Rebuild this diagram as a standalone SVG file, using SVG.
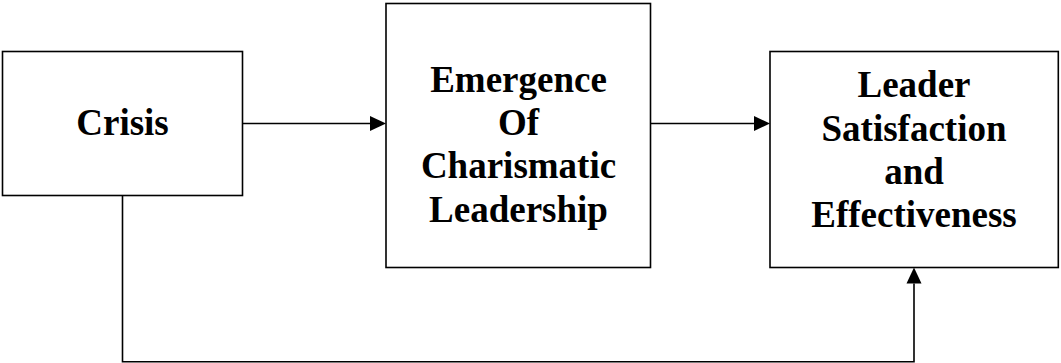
<svg xmlns="http://www.w3.org/2000/svg" width="1061" height="363" viewBox="0 0 1061 363">
<style>
.box{fill:#fff;stroke:#000;stroke-width:1.6}
.lbl{font-family:'Liberation Serif',Tinos,'DejaVu Serif',serif;font-weight:700;font-size:37px;fill:#000;text-anchor:middle}
.conn{fill:none;stroke:#000;stroke-width:1.6}
</style>
<defs>
<marker id="arr" markerUnits="userSpaceOnUse" markerWidth="16" markerHeight="15" viewBox="0 0 16 15" refX="0" refY="7.5" orient="auto" overflow="visible">
<path d="M0,0 L16,7.5 L0,15 z" fill="#000"/>
</marker>
</defs>
<g id="crisis">
<rect class="box" x="2.5" y="51.5" width="240" height="144"/>
<text class="lbl" font-family="Liberation Serif, serif" x="122.5" y="135">Crisis</text>
</g>
<g id="emergence">
<rect class="box" x="386" y="3.5" width="264.5" height="264"/>
<text class="lbl" font-family="Liberation Serif, serif" x="518.5" y="91.7">Emergence</text>
<text class="lbl" font-family="Liberation Serif, serif" x="518.5" y="135">Of</text>
<text class="lbl" font-family="Liberation Serif, serif" x="518.5" y="178.3">Charismatic</text>
<text class="lbl" font-family="Liberation Serif, serif" x="518.5" y="221.7">Leadership</text>
</g>
<g id="leader">
<rect class="box" x="770" y="51.5" width="288.3" height="216"/>
<text class="lbl" font-family="Liberation Serif, serif" x="914" y="97.3">Leader</text>
<text class="lbl" font-family="Liberation Serif, serif" x="914" y="140.6">Satisfaction</text>
<text class="lbl" font-family="Liberation Serif, serif" x="914" y="183.9">and</text>
<text class="lbl" font-family="Liberation Serif, serif" x="914" y="227.3">Effectiveness</text>
</g>
<g id="connectors">
<path class="conn" d="M242.5,123.5 H370" marker-end="url(#arr)"/>
<path class="conn" d="M650.5,123.5 H754" marker-end="url(#arr)"/>
<path class="conn" d="M122.5,195.5 V361.8 H914 V283.5" marker-end="url(#arr)"/>
</g>
</svg>
